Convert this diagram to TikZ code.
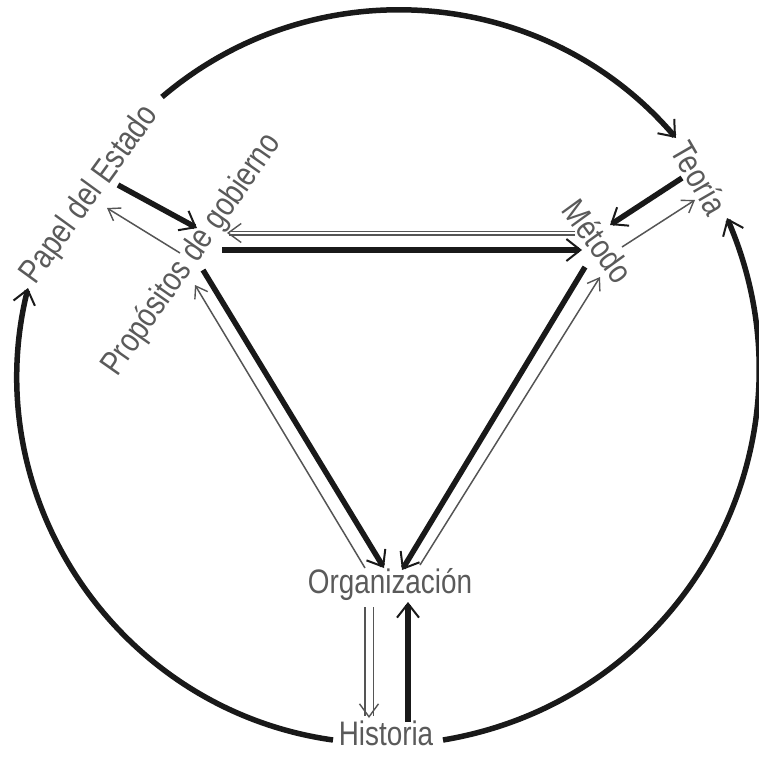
\documentclass[tikz,border=0pt]{standalone}
\usepackage{fontspec}
\usepackage{tikz}
\usetikzlibrary{arrows.meta, calc}
\newfontfamily\lblfont[FakeStretch=0.82]{Liberation Sans}
\definecolor{txtgray}{HTML}{5A5A5A}
\definecolor{linegray}{HTML}{555555}

\begin{document}
\begin{tikzpicture}[
  x=1pt, y=-1pt,
  lbl/.style={font=\lblfont\fontsize{34}{34}\selectfont, text=txtgray, inner sep=1pt},
  thickarr/.style={line width=5.5pt, draw=black!90,
    -{Straight Barb[length=14pt, width=22pt, line width=2pt]}},
  thinarr/.style={line width=1.5pt, draw=linegray,
    -{Straight Barb[length=11pt, width=15pt, line width=1.4pt]}},
  hollowarr/.style={draw=linegray, line width=1.3pt, double=white, double distance=#1,
    -{Straight Barb[length=13pt, width=19pt, line width=1.4pt]}}
]
\useasboundingbox (0,0) rectangle (759,757);

% the six labels
\node[lbl, rotate=54]  (papel)   at (90,195)  {Papel del Estado};
\node[lbl, rotate=55]  (prop)    at (192,255) {Propósitos de gobierno};
\node[lbl, rotate=-60] (teoria)  at (700,178) {Teoría};
\node[lbl, rotate=-54] (metodo)  at (598,241) {Método};
\node[lbl]             (org)     at (390,585) {Organización};
\node[lbl]             (hist)    at (386,733) {Historia};

% outer circle
\draw[thickarr] ($(papel)+(72,-98)$) to[bend left=45] ($(teoria)+(-24,-40)$);
\draw[thickarr] ($(hist)+(57,7)$) to[bend right=52, looseness=1.06] ($(teoria)+(27,40)$);
\draw[thickarr] ($(hist)+(-53,7)$) to[bend left=48, looseness=1.02] ($(papel)+(-62,93)$);

% triangle
\draw[thickarr] ($(prop)+(30,-5)$) -- ($(metodo)+(-16,9)$);
\draw[hollowarr=2.4pt] ($(metodo)+(-23,-8)$) -- ($(prop)+(35,-22)$);
\draw[thickarr] ($(prop)+(11,15)$) -- ($(org)+(-6,-17)$);
\draw[thinarr] ($(org)+(-25,-17)$) -- ($(prop)+(3,30)$);
\draw[thickarr] ($(metodo)+(-13,26)$) -- ($(org)+(12,-15)$);
\draw[thinarr] ($(org)+(30,-20)$) -- ($(metodo)+(2,36)$);

% side pairs
\draw[thickarr] ($(papel)+(28,-10)$) -- ($(prop)+(5,-27)$);
\draw[thinarr] ($(prop)+(-12,-2)$) -- ($(papel)+(17,13)$);
\draw[thickarr] ($(teoria)+(-18,0)$) -- ($(metodo)+(12,-16)$);
\draw[thinarr] ($(metodo)+(24,6)$) -- ($(teoria)+(-5,22)$);
\draw[hollowarr=7pt] ($(org)+(-21,22)$) -- ($(hist)+(-17,-15)$);
\draw[thickarr] ($(hist)+(22,-11)$) -- ($(org)+(18,17)$);
\end{tikzpicture}
\end{document}
